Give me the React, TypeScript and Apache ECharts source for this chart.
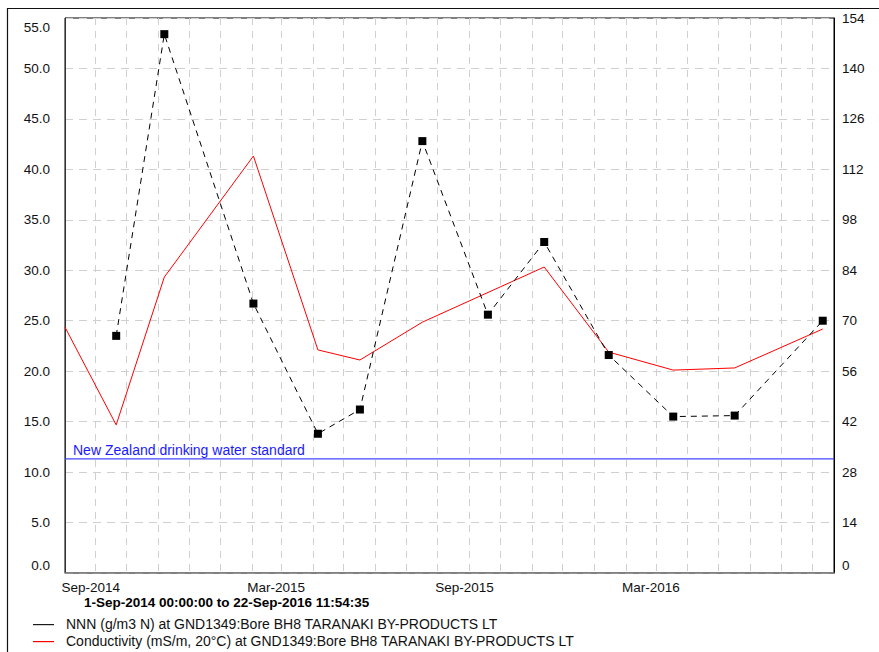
import React, { useEffect, useRef } from "react";
import * as echarts from "echarts";

// Sample dates (UTC) for the bore readings
const nnnDates = [
  "2014-09-21", "2014-11-07", "2015-02-02", "2015-04-06", "2015-05-17", "2015-07-17",
  "2015-09-19", "2015-11-13", "2016-01-15", "2016-03-18", "2016-05-17", "2016-08-11",
];
const nnnValues = [23.5, 53.4, 26.7, 13.8, 16.2, 42.8, 25.6, 32.8, 21.6, 15.5, 15.6, 25.0];

const condDates = [
  "2014-08-02", "2014-09-21", "2014-11-07", "2015-02-02", "2015-04-06", "2015-05-17",
  "2015-07-17", "2015-11-13", "2016-01-15", "2016-03-18", "2016-05-17", "2016-08-11",
];
const condValues = [68.2, 41.1, 82.1, 115.7, 61.9, 59.1, 69.6, 84.9, 61.3, 56.3, 56.9, 67.7];

const standardValue = 11.3;
const standardLabel = "New Zealand drinking water standard";

const axisStart = "2014-08-02";
const axisEnd = "2016-08-22";
const monthNames = ["Jan", "Feb", "Mar", "Apr", "May", "Jun", "Jul", "Aug", "Sep", "Oct", "Nov", "Dec"];
const labelledMonths = [2, 8];

const nnnName = "NNN (g/m3 N) at GND1349:Bore BH8 TARANAKI BY-PRODUCTS LT";
const condName = "Conductivity (mS/m, 20°C) at GND1349:Bore BH8 TARANAKI BY-PRODUCTS LT";
const periodText = "1-Sep-2014 00:00:00 to 22-Sep-2016 11:54:35";

const FONT = "'Liberation Sans', Arial, sans-serif";
const TICK_SIZE = 13.5;
const DAY = 86400000;

const ts = (s: string) => Date.parse(s + "T00:00:00Z");

export default function App() {
  const ref = useRef<HTMLDivElement>(null);

  useEffect(() => {
    if (!ref.current) return;
    const chart = echarts.init(ref.current, undefined, { renderer: "svg" });

    const nnnData = nnnDates.map((d, i) => [ts(d), nnnValues[i]]);
    const condData = condDates.map((d, i) => [ts(d), condValues[i]]);
    const standardData = [
      [ts(axisStart), standardValue],
      [ts(axisEnd), standardValue],
    ];

    // Legend rows drawn as plain line samples with captions
    const legendRows = [
      { name: nnnName, color: "#1a1a1a", y: 624 },
      { name: condName, color: "#ff0000", y: 641 },
    ];
    const legendGraphics: any[] = [];
    legendRows.forEach((r) => {
      legendGraphics.push({
        type: "rect",
        silent: true,
        shape: { x: 33, y: r.y, width: 21, height: 1.2 },
        style: { fill: r.color, stroke: "none" },
      });
      legendGraphics.push({
        type: "text",
        silent: true,
        x: 66,
        y: r.y,
        style: {
          text: r.name,
          font: `14px ${FONT}`,
          fill: "#111",
          verticalAlign: "middle",
          align: "left",
        },
      });
    });

    const baseGraphics: any[] = [
      {
        type: "rect",
        silent: true,
        shape: { x: 7.5, y: 8.5, width: 900, height: 700 },
        style: { fill: "none", stroke: "#111", lineWidth: 1.2 },
      },
      {
        type: "text",
        silent: true,
        x: 84,
        y: 602,
        style: {
          text: periodText,
          font: `bold 13.5px ${FONT}`,
          fill: "#000",
          verticalAlign: "middle",
        },
      },
      ...legendGraphics,
    ];

    const option: any = {
      animation: false,
      useUTC: true,
      backgroundColor: "#fff",
      textStyle: { fontFamily: FONT },
      grid: {
        left: 65,
        top: 18,
        right: 45,
        bottom: 79,
        show: true,
        borderColor: "#000",
        borderWidth: 1,
        backgroundColor: "transparent",
      },
      xAxis: {
        type: "time",
        min: ts(axisStart),
        max: ts(axisEnd),
        minInterval: 28 * DAY,
        maxInterval: 31 * DAY,
        axisLine: { show: true, lineStyle: { color: "#808080", width: 1.5 } },
        axisTick: { show: false },
        axisLabel: {
          fontFamily: FONT,
          fontSize: TICK_SIZE,
          color: "#111",
          margin: 7,
          padding: [0, 10, 0, 0],
          hideOverlap: false,
          showMinLabel: false,
          showMaxLabel: false,
          formatter: (v: number) => {
            const d = new Date(v);
            const m = d.getUTCMonth();
            if (d.getUTCDate() !== 1 || labelledMonths.indexOf(m) < 0) return "";
            return `${monthNames[m]}-${d.getUTCFullYear()}`;
          },
        },
        splitLine: {
          show: true,
          lineStyle: { color: "#d0d0d0", type: [7, 6], width: 1 },
        },
      },
      yAxis: [
        {
          type: "value",
          min: 0,
          max: 55,
          interval: 5,
          position: "left",
          axisLine: { show: true, lineStyle: { color: "#333", width: 1 } },
          axisTick: { show: false },
          axisLabel: {
            fontFamily: FONT,
            fontSize: TICK_SIZE,
            color: "#111",
            margin: 15,
            formatter: (v: number) => {
              const t = v.toFixed(1);
              if (v === 55) return `{down|${t}}`;
              if (v === 0) return `{up|${t}}`;
              return t;
            },
            rich: {
              down: { padding: [18, 0, 0, 0], fontSize: TICK_SIZE, fontFamily: FONT, color: "#111" },
              up: { padding: [0, 0, 16, 0], fontSize: TICK_SIZE, fontFamily: FONT, color: "#111" },
            },
          },
          splitLine: {
            show: true,
            lineStyle: { color: "#d0d0d0", type: [8, 6], width: 1 },
          },
        },
        {
          type: "value",
          min: 0,
          max: 154,
          interval: 14,
          position: "right",
          axisLine: { show: true, lineStyle: { color: "#000", width: 1 } },
          axisTick: { show: false },
          axisLabel: {
            fontFamily: FONT,
            fontSize: TICK_SIZE,
            color: "#111",
            margin: 8,
            formatter: (v: number) => (v === 0 ? `{up|${v}}` : `${v}`),
            rich: {
              up: { padding: [0, 0, 16, 0], fontSize: TICK_SIZE, fontFamily: FONT, color: "#111" },
            },
          },
          splitLine: { show: false },
        },
      ],
      series: [
        {
          name: standardLabel,
          type: "line",
          yAxisIndex: 0,
          data: standardData,
          symbol: "none",
          lineStyle: { color: "#4444ff", width: 1.2, type: "solid" },
          itemStyle: { color: "#4444ff" },
          silent: true,
          z: 2,
          label: { show: false },
        },
        {
          name: condName,
          type: "line",
          yAxisIndex: 1,
          data: condData,
          showSymbol: false,
          symbol: "none",
          lineStyle: { color: "#ff0000", width: 1 },
          itemStyle: { color: "#ff0000" },
          z: 3,
        },
        {
          name: nnnName,
          type: "line",
          yAxisIndex: 0,
          data: nnnData,
          symbol: "rect",
          symbolSize: 8,
          itemStyle: { color: "#000" },
          lineStyle: { color: "#000", width: 1, type: [6, 5] },
          z: 4,
        },
      ],
    };

    chart.setOption(option);

    // Caption for the drinking-water standard, placed from the axis scale
    const p = chart.convertToPixel({ xAxisIndex: 0, yAxisIndex: 0 }, [ts(axisStart), standardValue]);
    chart.setOption({
      graphic: [
        ...baseGraphics,
        {
          type: "text",
          silent: true,
          x: p[0] + 8,
          y: p[1] - 2,
          style: {
            text: standardLabel,
            font: `14px ${FONT}`,
            fill: "#1a1aff",
            verticalAlign: "bottom",
            align: "left",
          },
        },
      ],
    });

    return () => chart.dispose();
  }, []);

  return (
    <div
      ref={ref}
      style={{ position: "absolute", left: 0, top: 0, width: 879, height: 652 }}
    />
  );
}
